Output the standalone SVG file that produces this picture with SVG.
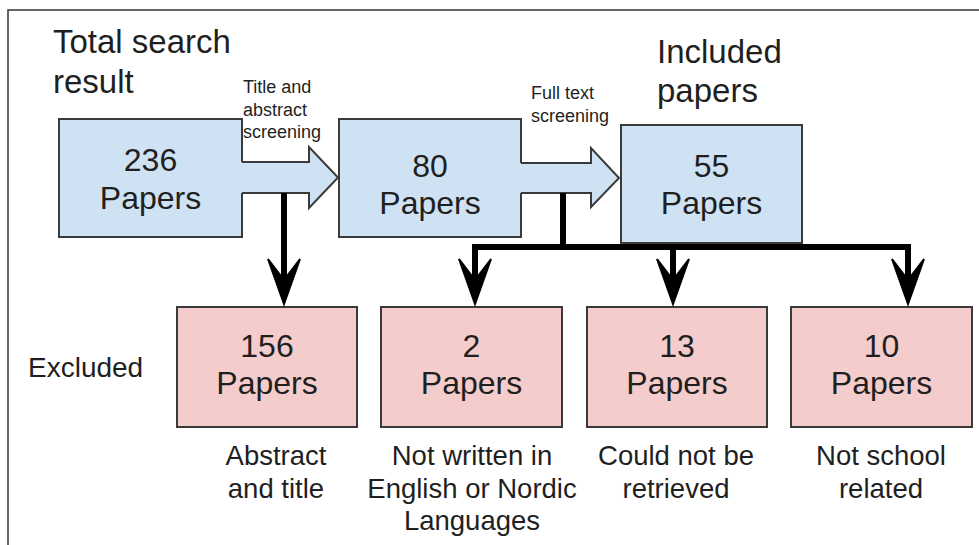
<svg xmlns="http://www.w3.org/2000/svg" width="979" height="545" viewBox="0 0 979 545">
<style>
text{font-family:"Liberation Sans",Arial,sans-serif;fill:#1f1f1f}
.big{font-size:32px;text-anchor:middle}
.lbl{font-size:27.5px;text-anchor:middle}
.hdr{font-size:33px}
.small{font-size:18px}
.blue{fill:#cfe2f3;stroke:#3a3a3a;stroke-width:2}
.pink{fill:#f4cccc;stroke:#3a3a3a;stroke-width:2}
.conn{stroke:#000;stroke-width:6;fill:none}
.head{fill:#000;stroke:#000;stroke-width:2;stroke-linejoin:miter}
</style>
<defs>
<path id="ah" d="M0,0 L-16,-45 L0,-24 L16,-45 Z"/>
</defs>
<rect x="0" y="0" width="979" height="545" fill="#fff"/>
<path d="M8,545 L8,10 L979,10" fill="none" stroke="#333" stroke-width="1.5"/>

<g id="titles">
<text class="hdr" x="53" y="53">Total search</text>
<text class="hdr" x="53" y="93">result</text>
<text class="hdr" x="657" y="63">Included</text>
<text class="hdr" x="657" y="102">papers</text>
<text x="28" y="377" style="font-size:28px">Excluded</text>
</g>

<g id="n236">
<rect class="blue" x="59" y="119" width="183" height="118"/>
<text class="big" x="150.5" y="171">236</text>
<text class="big" x="150.5" y="209">Papers</text>
</g>
<g id="n80">
<rect class="blue" x="339" y="119" width="182" height="118"/>
<text class="big" x="430" y="177">80</text>
<text class="big" x="430" y="214">Papers</text>
</g>
<g id="n55">
<rect class="blue" x="621" y="125" width="181" height="118"/>
<text class="big" x="711.5" y="177">55</text>
<text class="big" x="711.5" y="214">Papers</text>
</g>

<g id="arrow1">
<path d="M238,162 L309,162 L309,147 L338,177.5 L309,208 L309,193 L238,193 Z" fill="#cfe2f3"/>
<path d="M242,162 L309,162 L309,147 L338,177.5 L309,208 L309,193 L242,193" fill="none" stroke="#3a3a3a" stroke-width="2"/>
<text class="small" x="243" y="93">Title and</text>
<text class="small" x="243" y="116">abstract</text>
<text class="small" x="243" y="138">screening</text>
</g>
<g id="arrow2">
<path d="M517,163 L591,163 L591,148 L619,178 L591,207 L591,193 L517,193 Z" fill="#cfe2f3"/>
<path d="M521,163 L591,163 L591,148 L619,178 L591,207 L591,193 L521,193" fill="none" stroke="#3a3a3a" stroke-width="2"/>
<text class="small" x="531" y="99">Full text</text>
<text class="small" x="531" y="122">screening</text>
</g>

<g id="n156">
<rect class="pink" x="177" y="307" width="180" height="120"/>
<text class="big" x="267" y="357">156</text>
<text class="big" x="267" y="394">Papers</text>
<text class="lbl" x="276" y="465">Abstract</text>
<text class="lbl" x="276" y="498">and title</text>
</g>
<g id="n2">
<rect class="pink" x="381" y="307" width="181" height="120"/>
<text class="big" x="471.5" y="357">2</text>
<text class="big" x="471.5" y="394">Papers</text>
<text class="lbl" x="472" y="465">Not written in</text>
<text class="lbl" x="472" y="498">English or Nordic</text>
<text class="lbl" x="472" y="530">Languages</text>
</g>
<g id="n13">
<rect class="pink" x="587" y="307" width="180" height="120"/>
<text class="big" x="677" y="357">13</text>
<text class="big" x="677" y="394">Papers</text>
<text class="lbl" x="676" y="465">Could not be</text>
<text class="lbl" x="676" y="498">retrieved</text>
</g>
<g id="n10">
<rect class="pink" x="791" y="307" width="181" height="120"/>
<text class="big" x="881.5" y="357">10</text>
<text class="big" x="881.5" y="394">Papers</text>
<text class="lbl" x="881" y="465">Not school</text>
<text class="lbl" x="881" y="498">related</text>
</g>

<g id="connectors">
<path class="conn" d="M284,193 L284,290"/>
<path class="conn" d="M563,193 L563,247 M472,247 L911,247 M475,247 L475,290 M673,247 L673,290 M908,247 L908,290"/>
<use href="#ah" class="head" transform="translate(284,304)"/>
<use href="#ah" class="head" transform="translate(475,304)"/>
<use href="#ah" class="head" transform="translate(673,304)"/>
<use href="#ah" class="head" transform="translate(908,304)"/>
</g>
</svg>
